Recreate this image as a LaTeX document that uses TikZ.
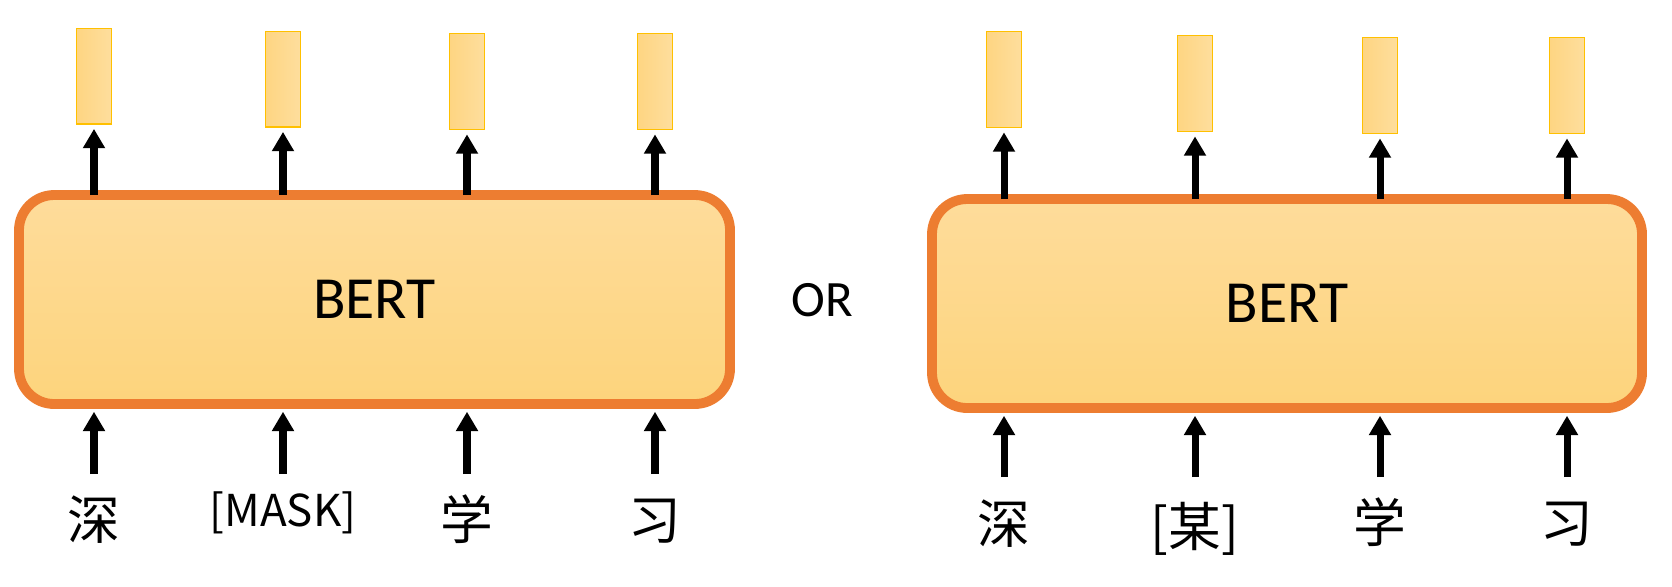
\documentclass[tikz,border=0pt]{standalone}
\usepackage{fontspec}
\setmainfont{Carlito}
\newfontfamily\cjk{Noto Sans CJK SC}
\usetikzlibrary{arrows.meta,fit}

\definecolor{bertEdge}{RGB}{237,125,49}
\definecolor{bertTop}{RGB}{254,220,155}
\definecolor{bertBot}{RGB}{253,212,124}
\definecolor{vecEdge}{RGB}{255,192,0}
\definecolor{vecLeft}{RGB}{254,213,130}
\definecolor{vecRight}{RGB}{254,222,157}

% one token column: output vector on top, token below, and the two arrows
% #1 side (L/R), #2 index, #3 x, #4 y of the vector, #5 y of the token, #6 token
\newcommand{\BertColumn}[6]{%
  \node[outvec] (#1Out#2) at (#3,#4) {};
  \node[tok] (#1Tok#2) at (#3,#5) {#6};
  \draw[outflow] (#1Out#2 |- #1Box.north) -- (#1Out#2.south);
  \draw[inflow] (#1Tok#2 |- #1Foot) -- (#1Tok#2 |- #1Box.south);
}

\begin{document}
\begin{tikzpicture}[x=0.02cm,y=-0.02cm,
  bertbox/.style={draw=bertEdge, line width=5.6pt, rounded corners=20pt,
    top color=bertTop, bottom color=bertBot, inner sep=0pt},
  outvec/.style={draw=vecEdge, line width=0.7pt, left color=vecLeft,
    right color=vecRight, minimum width=19.8pt, minimum height=54.5pt, inner sep=0pt},
  tok/.style={font=\cjk\fontsize{30}{30}\selectfont, inner sep=0pt},
  upflow/.style={line width=4pt, -{Triangle[width=12pt,length=11pt]}},
  outflow/.style={upflow, shorten <=-2.8pt, shorten >=2.5pt},
  inflow/.style={upflow, shorten >=1.6pt}]

\useasboundingbox (0,0) rectangle (1672,586);

% ---------------- the two models ----------------
\node[bertbox, fit={(19,195) (730,404)}] (LBox) {};
\node[font=\fontsize{34}{34}\selectfont] (LName) at (LBox.center) {BERT};

\node[bertbox, fit={(932,199) (1642,408)}] (RBox) {};
\node[font=\fontsize{34}{34}\selectfont] (RName) at (RBox.center) {BERT};

\node[font=\fontsize{29}{29}\selectfont] (Or) at (822,300) {OR};

% foot of the input arrows
\coordinate (LFoot) at (0,474);
\coordinate (RFoot) at (0,477);

% ---------------- left: [MASK] ----------------
\BertColumn{L}{1}{94}{76}{520}{深}
\BertColumn{L}{2}{283}{79}{513}{\fontsize{25}{25}\selectfont[MASK]}
\BertColumn{L}{3}{467}{81.5}{519}{学}
\BertColumn{L}{4}{655}{81.5}{521}{习}

% ---------------- right: [某] ----------------
\BertColumn{R}{1}{1004}{79.5}{524}{深}
\BertColumn{R}{2}{1195}{83.5}{529}{[某]}
\BertColumn{R}{3}{1380}{85.5}{522}{学}
\BertColumn{R}{4}{1567}{85.5}{524}{习}

\end{tikzpicture}
\end{document}
